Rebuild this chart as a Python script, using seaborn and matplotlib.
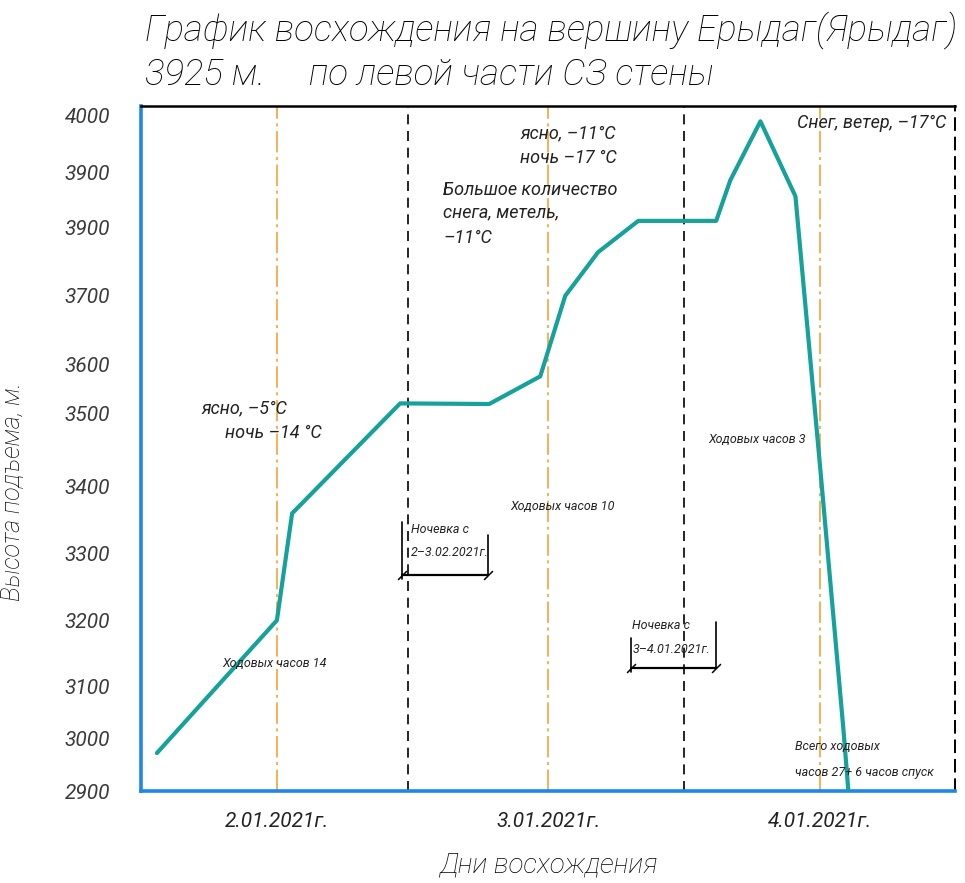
import matplotlib
matplotlib.use("Agg")
import matplotlib.pyplot as plt
import pandas as pd
import seaborn as sns

# climb profile: x = days from start (0..3), y = altitude, m
day_pos = [0.059, 0.501, 0.557, 0.955, 1.283, 1.471, 1.563, 1.684, 1.832,
           2.119, 2.171, 2.282, 2.411, 2.503, 2.588, 2.606]
altitude = [2962, 3178, 3352, 3531, 3530, 3575, 3706, 3777, 3828,
            3828, 3894, 3990, 3868, 3422, 2999, 2900]

# axis ticks as drawn on the original (labels copied as they are)
y_tick_pos = [2900, 2985, 3071, 3177, 3287, 3396, 3514, 3595, 3706, 3818, 3907, 4000]
y_tick_labels = ["2900", "3000", "3100", "3200", "3300", "3400", "3500", "3600",
                 "3700", "3900", "3900", "4000"]
day_centers = [0.5, 1.5, 2.5]
day_labels = ["2.01.2021г.", "3.01.2021г.", "4.01.2021г."]
day_bounds = [0.985, 2.0]

# notes on the chart (x, y, text, size)
notes = [
    (0.225, 3523, "ясно, –5°C", 13),
    (0.31, 3483, "ночь –14 °C", 13),
    (1.397, 3971, "ясно, –11°C", 13),
    (1.397, 3930, "ночь –17 °C", 13),
    (1.113, 3878, "Большое количество", 13),
    (1.113, 3841, "снега, метель,", 13),
    (1.113, 3800, "–11°C", 13),
    (2.418, 3987, "Снег, ветер, –17°C", 13),
    (0.299, 3108, "Ходовых часов 14", 9),
    (1.36, 3364, "Ходовых часов 10", 9),
    (2.09, 3473, "Ходовых часов 3", 9),
    (2.41, 2972, "Всего ходовых", 9),
    (2.41, 2931, "часов 27+ 6 часов спуск", 9),
    (0.995, 3325, "Ночевка с", 9),
    (0.995, 3289, "2–3.02.2021г.", 9),
    (1.81, 3170, "Ночевка с", 9),
    (1.81, 3131, "3–4.01.2021г.", 9),
]
# overnight brackets: left x, right x, left top, right top, bottom
brackets = [
    (0.96, 1.28, 3338, 3317, 3252),
    (1.805, 2.119, 3149, 3175, 3100),
]

sns.set_style("white")
plt.rcParams["font.family"] = ["Roboto", "DejaVu Sans"]
plt.rcParams["font.style"] = "italic"

df = pd.DataFrame({"day": day_pos, "alt": altitude})

fig = plt.figure(figsize=(9.65, 8.83), dpi=100)
ax = fig.add_axes([0.146, 0.104, 0.844, 0.776])

for xc in day_centers:
    ax.axvline(xc, color="#f39a2b", lw=1.1, ls=(0, (14, 3, 2, 3)), zorder=1)
for xb in day_bounds:
    ax.axvline(xb, color="black", lw=1.2, ls=(0, (6, 4)), zorder=1)

sns.lineplot(data=df, x="day", y="alt", sort=False, color="#17a19b", lw=3,
             ax=ax, zorder=3)

for x, y, t, s in notes:
    ax.text(x, y, t, fontsize=s, va="center", ha="left", color="#222222")

for xl, xr, yl, yr, yb in brackets:
    ax.plot([xl, xl], [yl, yb - 6], color="black", lw=1.2)
    ax.plot([xr, xr], [yr, yb], color="black", lw=1.2)
    ax.plot([xl, xr], [yb, yb], color="black", lw=1.6,
            marker=(2, 0, -45), markersize=9, markeredgewidth=1.1)

ax.set_xlim(0, 3)
ax.set_ylim(2900, 4015)
ax.set_yticks(y_tick_pos)
ax.set_yticklabels(y_tick_labels, fontsize=15, color="#3a3a3a")
ax.set_xticks(day_centers)
ax.set_xticklabels(day_labels, fontsize=15, color="#222222")
ax.tick_params(axis="x", length=0, pad=15)
ax.tick_params(axis="y", length=0, pad=22)

ax.set_xlabel("Дни восхождения", fontsize=20, labelpad=15,
              fontweight="light", color="black")
ax.set_ylabel("Высота подъема, м.", fontsize=18, fontweight="light", color="black")
ax.yaxis.set_label_coords(-0.142, 0.437)

for side in ["left", "bottom"]:
    ax.spines[side].set_color("#1f86ee")
    ax.spines[side].set_linewidth(2.6)
ax.spines["top"].set_color("black")
ax.spines["top"].set_linewidth(1.8)
ax.spines["right"].set_color("black")
ax.spines["right"].set_linewidth(1.4)
ax.spines["right"].set_linestyle((0, (6, 4)))

fig.text(0.15, 0.987, "График восхождения на вершину Ерыдаг(Ярыдаг)",
         fontsize=26.5, va="top", ha="left", color="black", fontweight="light")
fig.text(0.15, 0.936, "3925 м.     по левой части СЗ стены",
         fontsize=26.5, va="top", ha="left", color="black", fontweight="light")

fig.savefig("out.png", dpi=100)
